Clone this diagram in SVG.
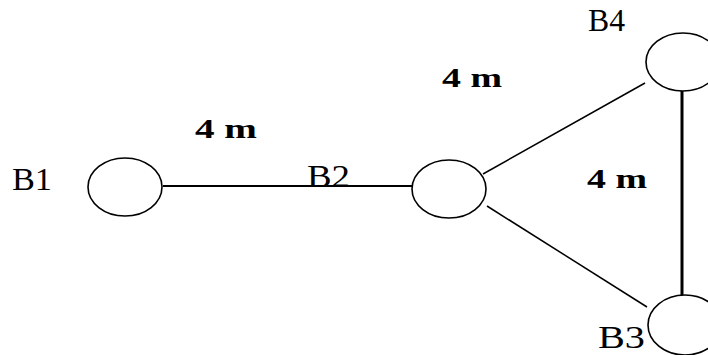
<svg xmlns="http://www.w3.org/2000/svg" width="708" height="355" viewBox="0 0 708 355">
<style>
.node{fill:none;stroke:#000;stroke-width:1.6}
.lbl{font-family:"Liberation Serif","Times New Roman",serif;font-size:32px;fill:#000}
.dist{font-family:"Liberation Serif","Times New Roman",serif;font-size:27px;font-weight:bold;fill:#000}
.edge{stroke:#000;fill:none}
</style>
<rect width="708" height="355" fill="#fff"/>
<g id="connectors">
<line class="edge" x1="163" y1="186" x2="412" y2="186" stroke-width="2"/>
<line class="edge" x1="483" y1="174" x2="645" y2="83" stroke-width="1.5"/>
<line class="edge" x1="487" y1="206" x2="647" y2="307" stroke-width="1.5"/>
<line class="edge" x1="682" y1="91" x2="682" y2="295" stroke-width="3"/>
</g>
<g id="B1">
<ellipse class="node" cx="125" cy="187" rx="37" ry="29"/>
<text class="lbl" x="12" y="190" textLength="40" lengthAdjust="spacingAndGlyphs">B1</text>
</g>
<g id="B2">
<ellipse class="node" cx="449" cy="189" rx="37" ry="29"/>
<text class="lbl" x="307" y="187" textLength="43" lengthAdjust="spacingAndGlyphs">B2</text>
</g>
<g id="B4">
<ellipse class="node" cx="683" cy="62" rx="37" ry="29"/>
<text class="lbl" x="588" y="31" textLength="37" lengthAdjust="spacingAndGlyphs">B4</text>
</g>
<g id="B3">
<ellipse class="node" cx="685" cy="325" rx="37" ry="30"/>
<text class="lbl" x="598" y="348" textLength="47" lengthAdjust="spacingAndGlyphs">B3</text>
</g>
<g id="labels">
<text class="dist" x="195" y="138" textLength="62" lengthAdjust="spacingAndGlyphs">4 m</text>
<text class="dist" x="442" y="87" textLength="60" lengthAdjust="spacingAndGlyphs">4 m</text>
<text class="dist" x="587" y="188" textLength="60" lengthAdjust="spacingAndGlyphs">4 m</text>
</g>
</svg>
